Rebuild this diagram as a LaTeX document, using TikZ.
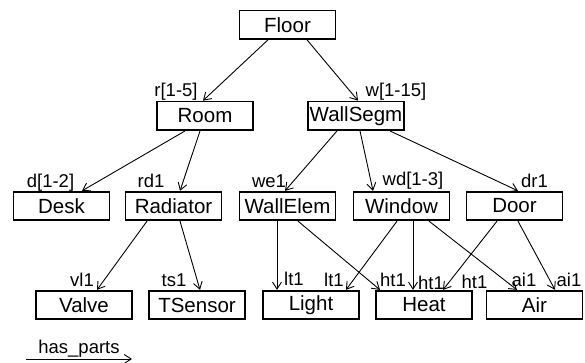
\documentclass[tikz,border=0pt]{standalone}
\usepackage{fontspec}
\setmainfont{Liberation Sans}
\usetikzlibrary{arrows.meta}
\begin{document}
\begin{tikzpicture}[x=1pt,y=-1pt,
 box/.style={draw, line width=1.8pt, minimum width=96pt, minimum height=28.5pt, inner sep=0pt, font=\fontsize{20.5}{24}\selectfont},
 lab/.style={inner sep=0pt, font=\fontsize{18.5}{21}\selectfont},
 arr/.style={line width=0.9pt, -{Straight Barb[length=7pt,width=9pt,line width=0.9pt]}}]
\useasboundingbox (0,0) rectangle (585,363);
% boxes
\node[box] (floor) at (287.5,24.7) {Floor};
\node[box] (room) at (205,115.8) {Room};
\node[box] (wallsegm) at (356,115.8) {WallSegm};
\node[box] (desk) at (61.5,206) {Desk};
\node[box] (radiator) at (173.5,206) {Radiator};
\node[box] (wallelem) at (287.5,206) {WallElem};
\node[box] (window) at (401.5,206) {Window};
\node[box] (door) at (514.5,206) {Door};
\node[box] (valve) at (84,305) {Valve};
\node[box] (tsensor) at (197,305) {TSensor};
\node[box] (light) at (311,305) {Light};
\node[box] (heat) at (424,305) {Heat};
\node[box] (air) at (534.5,305) {Air};
% connectors
\draw[arr] ([xshift=-19.5pt]floor.south) -- ([xshift=-2pt]room.north);
\draw[arr] ([xshift=19.5pt]floor.south) -- ([xshift=2pt]wallsegm.north);
\draw[arr] ([xshift=-20pt]room.south) -- ([xshift=20.5pt]desk.north);
\draw[arr] ([xshift=-5pt]room.south) -- ([xshift=6.5pt]radiator.north);
\draw[arr] ([xshift=-19pt]wallsegm.south) -- ([xshift=-2.5pt]wallelem.north);
\draw[arr] ([xshift=4pt]wallsegm.south) -- ([xshift=-28.5pt]window.north);
\draw[arr] ([xshift=34pt]wallsegm.south) -- ([xshift=3.5pt]door.north);
\draw[arr] ([xshift=-26.5pt]radiator.south) -- ([xshift=13pt]valve.north);
\draw[arr] ([xshift=6.5pt]radiator.south) -- ([xshift=3pt]tsensor.north);
\draw[arr] ([xshift=-10.5pt]wallelem.south) -- ([xshift=-34pt]light.north);
\draw[arr] ([xshift=10.5pt]wallelem.south) -- ([xshift=-44pt]heat.north);
\draw[arr] ([xshift=-4.5pt]window.south) -- ([xshift=35pt]light.north);
\draw[arr] ([xshift=11.5pt]window.south) -- ([xshift=-11pt]heat.north);
\draw[arr] ([xshift=27.5pt]window.south) -- ([xshift=-17.5pt]air.north);
\draw[arr] ([xshift=-17.5pt]door.south) -- ([xshift=19pt]heat.north);
\draw[arr] ([xshift=3.5pt]door.south) -- ([xshift=20.5pt]air.north);
% labels
\node[lab] (l1) at (176,91.5) {r[1-5]};
\node[lab] (l2) at (396,92) {w[1-15]};
\node[lab] (l3) at (50.5,183) {d[1-2]};
\node[lab] (l4) at (151,181) {rd1};
\node[lab] (l5) at (269,181) {we1};
\node[lab] (l6) at (413,181) {wd[1-3]};
\node[lab] (l7) at (534.5,181) {dr1};
\node[lab] (l8) at (82,280) {vl1};
\node[lab] (l9) at (174,280) {ts1};
\node[lab] (l10) at (294,278.5) {lt1};
\node[lab] (l11) at (334,280) {lt1};
\node[lab] (l12) at (393,280) {ht1};
\node[lab] (l13) at (431,283) {ht1};
\node[lab] (l14) at (474.5,282) {ht1};
\node[lab] (l15) at (524,280) {ai1};
\node[lab] (l16) at (569,280) {ai1};
% legend
\coordinate (lg1) at (26,359);
\coordinate (lg2) at (132,359);
\draw[arr] (lg1) -- (lg2) node[lab, midway, above=1pt, xshift=-0pt] (lgt) {has\_parts};
\end{tikzpicture}
\end{document}
